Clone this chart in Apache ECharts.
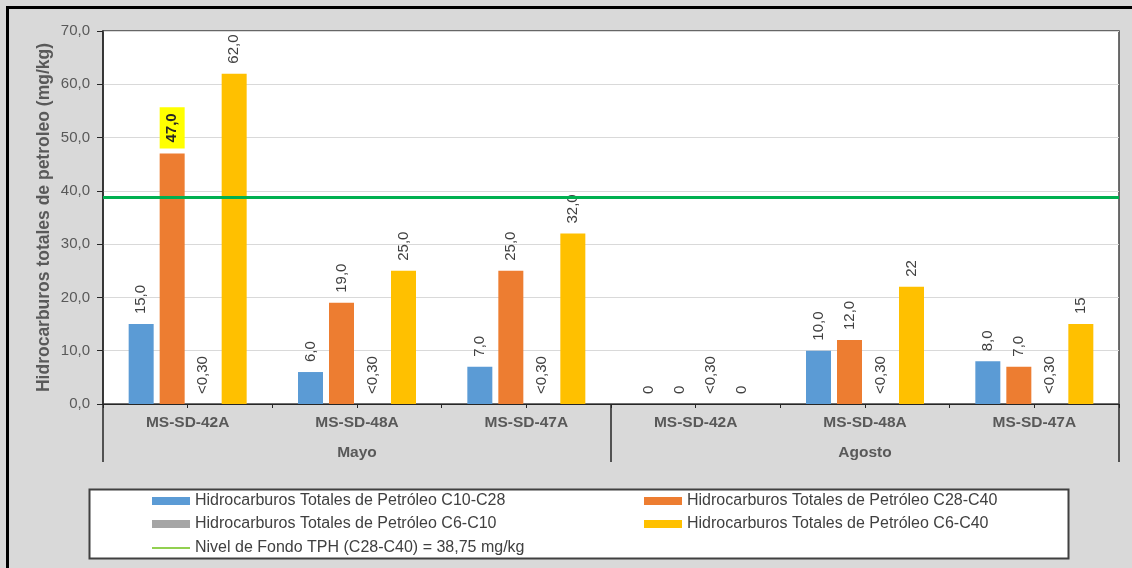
<!DOCTYPE html>
<html>
<head>
<meta charset="utf-8">
<script src="https://cdn.jsdelivr.net/npm/echarts@6/dist/echarts.min.js"></script>
<style>
  html, body { margin: 0; padding: 0; background: #d9d9d9; }
  #chart { width: 1132px; height: 568px; }
</style>
</head>
<body>
<div id="chart"></div>
<script>
// categorias del eje X (dos niveles)
const categorias = ['MS-SD-42A', 'MS-SD-48A', 'MS-SD-47A', 'MS-SD-42A', 'MS-SD-48A', 'MS-SD-47A'];
const meses = ['Mayo', 'Agosto'];

// nombres de series
const nomC10C28 = 'Hidrocarburos Totales de Petróleo C10-C28';
const nomC28C40 = 'Hidrocarburos Totales de Petróleo C28-C40';
const nomC6C10 = 'Hidrocarburos Totales de Petróleo C6-C10';
const nomC6C40 = 'Hidrocarburos Totales de Petróleo C6-C40';
const nomFondo = 'Nivel de Fondo TPH (C28-C40) = 38,75 mg/kg';

// valores (mg/kg)
const valC10C28 = [15, 6, 7, 0, 10, 8];
const valC28C40 = [47, 19, 25, 0, 12, 7];
const valC6C10 = [0, 0, 0, 0, 0, 0]; // < limite de deteccion
const valC6C40 = [62, 25, 32, 0, 22, 15];
const nivelFondo = 38.75;

// etiquetas tal como aparecen
const lblC10C28 = ['15,0', '6,0', '7,0', '0', '10,0', '8,0'];
const lblC28C40 = ['47,0', '19,0', '25,0', '0', '12,0', '7,0'];
const lblC6C10 = ['<0,30', '<0,30', '<0,30', '<0,30', '<0,30', '<0,30'];
const lblC6C40 = ['62,0', '25,0', '32,0', '0', '22', '15'];

// ticks del eje Y
const yMin = 0, yMax = 70, yStep = 10;

const fuente = 'Liberation Sans, Arial, sans-serif';
const chart = echarts.init(document.getElementById('chart'));

// etiqueta vertical encima de la barra
function etiqueta(textos) {
  return {
    show: true,
    position: 'top',
    rotate: 90,
    align: 'left',
    verticalAlign: 'middle',
    distance: 10,
    color: '#404040',
    fontSize: 15,
    fontFamily: fuente,
    formatter: p => textos[p.dataIndex]
  };
}

function serieBarra(nombre, valores, textos, color) {
  return {
    name: nombre,
    type: 'bar',
    data: valores.slice(),
    barWidth: 25,
    barGap: '24%',
    itemStyle: { color: color },
    label: etiqueta(textos)
  };
}

const serieC28 = serieBarra(nomC28C40, valC28C40, lblC28C40, '#ed7d31');
// el 47,0 va resaltado en amarillo
serieC28.data[0] = {
  value: valC28C40[0],
  label: {
    backgroundColor: '#ffff00',
    fontWeight: 'bold',
    color: '#262626',
    distance: 5,
    padding: [5, 6, 5, 6]
  }
};

const legendaTexto = {
  color: '#404040',
  fontSize: 16,
  fontFamily: fuente
};

const option = {
  backgroundColor: '#d9d9d9',
  animation: false,
  graphic: [
    {
      type: 'polyline',
      z: -1,
      shape: { points: [[7.5, 568], [7.5, 7.5], [1132, 7.5]] },
      style: { stroke: '#000', lineWidth: 3, fill: null }
    },
    {
      type: 'rect',
      z: -1,
      shape: { x: 89.5, y: 489.5, width: 979, height: 69 },
      style: { fill: '#ffffff', stroke: '#404040', lineWidth: 2 }
    }
  ],
  grid: {
    left: 103,
    right: 13,
    top: 31,
    bottom: 164,
    show: true,
    backgroundColor: '#ffffff',
    borderColor: '#404040',
    borderWidth: 1.5
  },
  legend: [
    {
      left: 152, top: 493, orient: 'vertical', itemGap: 7,
      itemWidth: 38, itemHeight: 8, icon: 'rect', padding: 0,
      data: [nomC10C28, nomC6C10], textStyle: legendaTexto
    },
    {
      left: 644, top: 493, orient: 'vertical', itemGap: 7,
      itemWidth: 38, itemHeight: 8, icon: 'rect', padding: 0,
      data: [nomC28C40, nomC6C40], textStyle: legendaTexto
    },
    {
      left: 152, top: 540, orient: 'vertical',
      itemWidth: 38, itemHeight: 2, icon: 'rect', padding: 0,
      data: [nomFondo], textStyle: legendaTexto
    }
  ],
  xAxis: [
    {
      type: 'category',
      data: categorias,
      position: 'bottom',
      axisLine: { lineStyle: { color: '#262626', width: 1 } },
      axisTick: { show: true, interval: 0, length: 4, lineStyle: { color: '#262626' } },
      axisLabel: {
        interval: 0,
        margin: 11,
        color: '#595959',
        fontWeight: 'bold',
        fontSize: 15.5,
        fontFamily: fuente
      }
    },
    {
      type: 'category',
      data: categorias,
      position: 'bottom',
      axisLine: { show: false },
      axisTick: { show: true, interval: 0, alignWithLabel: true, length: 4, lineStyle: { color: '#262626' } },
      axisLabel: { show: false }
    },
    {
      type: 'category',
      data: meses,
      position: 'bottom',
      axisLine: { show: false },
      axisTick: { show: true, interval: 0, length: 58, lineStyle: { color: '#262626', width: 1.5 } },
      axisLabel: {
        interval: 0,
        margin: 41,
        color: '#595959',
        fontWeight: 'bold',
        fontSize: 15.5,
        fontFamily: fuente
      }
    }
  ],
  yAxis: {
    type: 'value',
    min: yMin,
    max: yMax,
    interval: yStep,
    name: 'Hidrocarburos totales de petroleo (mg/kg)',
    nameLocation: 'middle',
    nameGap: 50,
    nameMoveOverlap: false,
    nameTextStyle: {
      color: '#595959',
      fontWeight: 'bold',
      fontSize: 17.5,
      fontFamily: fuente
    },
    axisLine: { show: true, lineStyle: { color: '#262626', width: 1.5 } },
    axisTick: { show: true, length: 6, lineStyle: { color: '#262626' } },
    axisLabel: {
      margin: 13,
      color: '#595959',
      fontSize: 15,
      fontFamily: fuente,
      formatter: v => v.toFixed(1).replace('.', ',')
    },
    splitLine: { lineStyle: { color: '#d9d9d9', width: 1 } }
  },
  series: [
    serieBarra(nomC10C28, valC10C28, lblC10C28, '#5b9bd5'),
    serieC28,
    serieBarra(nomC6C10, valC6C10, lblC6C10, '#a5a5a5'),
    serieBarra(nomC6C40, valC6C40, lblC6C40, '#ffc000'),
    {
      name: nomFondo,
      type: 'line',
      data: [],
      itemStyle: { color: '#92d050' },
      lineStyle: { color: '#92d050' },
      markLine: {
        silent: true,
        symbol: ['none', 'none'],
        label: { show: false },
        lineStyle: { color: '#00b050', width: 3, type: 'solid' },
        data: [{ yAxis: nivelFondo }]
      }
    }
  ]
};

chart.setOption(option);
</script>
</body>
</html>
